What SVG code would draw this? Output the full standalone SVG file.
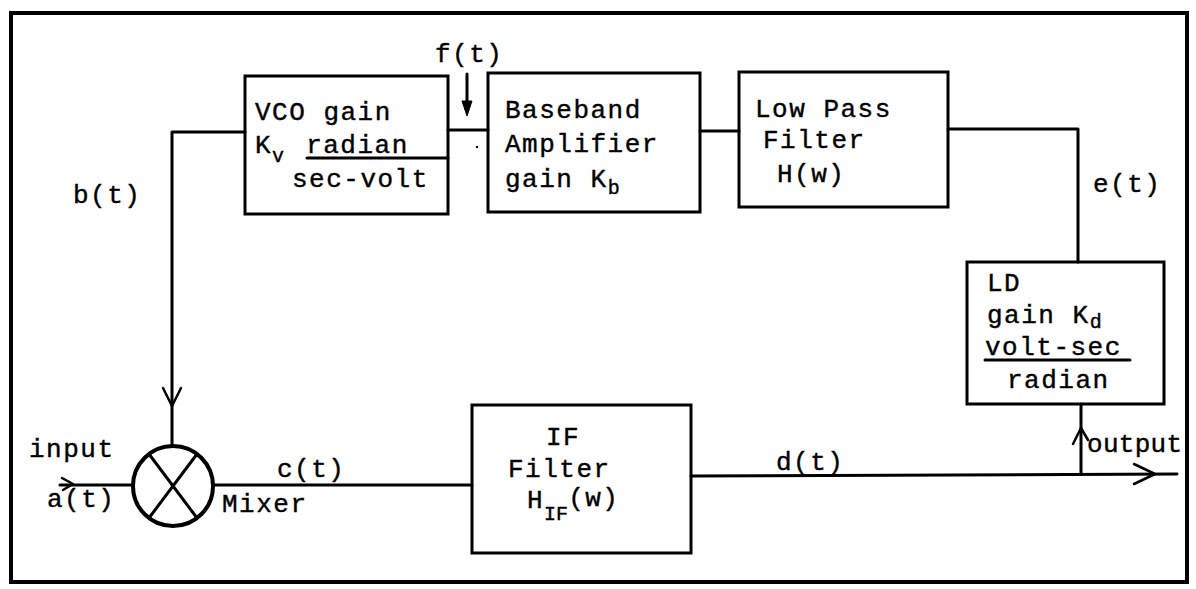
<svg xmlns="http://www.w3.org/2000/svg" width="1196" height="589" viewBox="0 0 1196 589">
<style>
text{font-family:"Liberation Mono","DejaVu Sans Mono",monospace;font-size:26px;letter-spacing:1.5px;fill:#000;stroke:#000;stroke-width:0.4}
.sub{font-size:20px;letter-spacing:0}
.box{fill:none;stroke:#000;stroke-width:3}
.ln{fill:none;stroke:#000;stroke-width:3;stroke-linecap:round;stroke-linejoin:round}
.thin{fill:none;stroke:#000;stroke-width:2.5;stroke-linecap:round;stroke-linejoin:round}
</style>
<rect id="frame" x="11" y="13" width="1176" height="569" fill="none" stroke="#000" stroke-width="4"/>

<g id="connectors">
<polyline class="ln" points="245,132 172,132 172,446"/>
<polyline class="thin" points="163,388 172,406 181,388"/>
<line class="ln" x1="448" y1="130" x2="488" y2="130"/>
<line class="ln" x1="467" y1="74" x2="467" y2="104"/>
<polygon points="462,101 472,101 467,116" fill="#000" stroke="#000" stroke-width="1" stroke-linejoin="round"/>
<circle cx="477" cy="147" r="1.2" fill="#000"/>
<line class="ln" x1="700" y1="131" x2="739" y2="131"/>
<polyline class="ln" points="948,129 1078,129 1078,262"/>
<line class="ln" x1="60" y1="485" x2="133" y2="485"/>
<polyline class="thin" points="62,478 73,484 63,490"/>
<line class="ln" x1="213" y1="485" x2="472" y2="485"/>
<line class="ln" x1="691" y1="476" x2="1177" y2="474"/>
<polyline class="thin" points="1134,464 1155,474 1134,484"/>
<line class="ln" x1="1081" y1="404" x2="1081" y2="474"/>
<polyline class="thin" points="1073,444 1081,428 1088,440"/>
</g>

<g id="mixer">
<circle cx="173" cy="486" r="40" fill="none" stroke="#000" stroke-width="4"/>
<line class="ln" x1="149" y1="454" x2="197" y2="518"/>
<line class="ln" x1="197" y1="454" x2="149" y2="518"/>
<text x="222" y="512">Mixer</text>
</g>

<g id="vco">
<rect class="box" x="245" y="76" width="203" height="138"/>
<text x="255" y="120">VCO gain</text>
<text x="255" y="153">K<tspan class="sub" dy="9">v</tspan><tspan dy="-9" dx="22">radian</tspan></text>
<line class="ln" x1="307" y1="158" x2="448" y2="158"/>
<text x="292" y="187">sec-volt</text>
</g>

<g id="baseband">
<rect class="box" x="488" y="73" width="212" height="139"/>
<text x="505" y="118">Baseband</text>
<text x="505" y="152">Amplifier</text>
<text x="505" y="187">gain K<tspan class="sub" dy="7">b</tspan></text>
</g>

<g id="lpf">
<rect class="box" x="739" y="72" width="209" height="135"/>
<text x="755" y="117">Low Pass</text>
<text x="763" y="148">Filter</text>
<text x="777" y="182">H(w)</text>
</g>

<g id="ld">
<rect class="box" x="967" y="262" width="197" height="142"/>
<text x="987" y="291">LD</text>
<text x="987" y="323">gain K<tspan class="sub" dy="5">d</tspan></text>
<text x="985" y="355">volt-sec</text>
<line class="ln" x1="985" y1="360" x2="1130" y2="360"/>
<text x="1007" y="388">radian</text>
</g>

<g id="if">
<rect class="box" x="472" y="405" width="219" height="148"/>
<text x="546" y="445">IF</text>
<text x="508" y="477">Filter</text>
<text x="527" y="508">H<tspan class="sub" dy="12">IF</tspan><tspan dy="-14">(w)</tspan></text>
</g>

<g id="labels">
<text x="435" y="62">f(t)</text>
<text x="73" y="203">b(t)</text>
<text x="1093" y="192">e(t)</text>
<text x="29" y="457">input</text>
<text x="47" y="507">a(t)</text>
<text x="277" y="477">c(t)</text>
<text x="776" y="470">d(t)</text>
<text x="1087" y="452" style="letter-spacing:0.3px">output</text>
</g>
</svg>
